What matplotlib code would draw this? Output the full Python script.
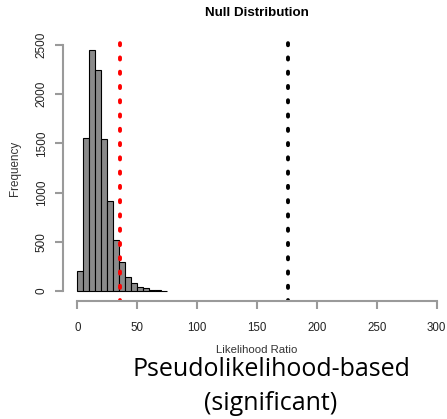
import numpy as np
import matplotlib.pyplot as plt

# histogram of the null likelihood ratios (bin width 5)
bin_edges = np.arange(0, 80, 5)
counts = [200, 1560, 2450, 2250, 1540, 910, 520, 290, 140, 85, 38, 32, 10, 8, 2]
observed_cutoff = 36    # red line
observed_stat = 176     # black line

x_ticks = [0, 50, 100, 150, 200, 250, 300]
y_ticks = [0, 500, 1000, 1500, 2000, 2500]

W, H = 447, 419
fig = plt.figure(figsize=(W / 100, H / 100), dpi=100)
plt.rcParams['font.family'] = ['Liberation Sans', 'DejaVu Sans']

# plot region, R style: 4% padding around the data range
left, right, top, bottom = 63, 451, 35.2, 300.8
ax = fig.add_axes([left / W, 1 - bottom / H, (right - left) / W, (bottom - top) / H])
ax.set_xlim(-12, 312)
ax.set_ylim(-100, 2600)

ax.bar(bin_edges[:-1], counts, width=5, align='edge', color='#8a8a8a',
       edgecolor='black', linewidth=0.8)

dots = (0.3, (0.55, 3.12))
ax.axvline(observed_cutoff, ymin=0.0, ymax=0.98, color='red', lw=2.8,
           linestyle=dots, dash_capstyle='round')
ax.axvline(observed_stat, ymin=0.0, ymax=0.98, color='black', lw=2.8,
           linestyle=dots, dash_capstyle='round')

for s in ax.spines.values():
    s.set_visible(False)

axis_col = '#9a9a9a'
# axis lines only across the tick range, like R's axis()
ax.plot([0, 300], [-100, -100], color=axis_col, lw=1.5, clip_on=False)
ax.plot([-12, -12], [0, 2500], color=axis_col, lw=1.5, clip_on=False)

ax.set_xticks(x_ticks)
ax.set_yticks(y_ticks)
ax.set_xticklabels([str(v) for v in x_ticks], fontsize=8.3, color='#222222')
ax.set_yticklabels([str(v) for v in y_ticks], fontsize=8.5, color='#222222',
                   rotation=90, va='center')
ax.tick_params(axis='x', length=6, width=1.5, color=axis_col, pad=9)
ax.tick_params(axis='y', length=6, width=1.5, color=axis_col, pad=5)

fig.text(257 / W, 1 - 13 / H, 'Null Distribution', ha='center', va='center',
         fontsize=9.6, fontweight='bold')
fig.text(257 / W, 1 - 350 / H, 'Likelihood Ratio', ha='center', va='center',
         fontsize=8.2, color='#333333')
fig.text(15 / W, 1 - 168 / H, 'Frequency', ha='center', va='center',
         fontsize=8.4, rotation=90, color='#333333')

fig.text(271 / W, 1 - 369 / H, 'Pseudolikelihood-based', ha='center',
         va='center', fontsize=18, family=['Open Sans', 'DejaVu Sans'])
fig.text(271 / W, 1 - 403 / H, '(significant)', ha='center',
         va='center', fontsize=18, family=['Open Sans', 'DejaVu Sans'])

fig.savefig('out.png', dpi=100)
